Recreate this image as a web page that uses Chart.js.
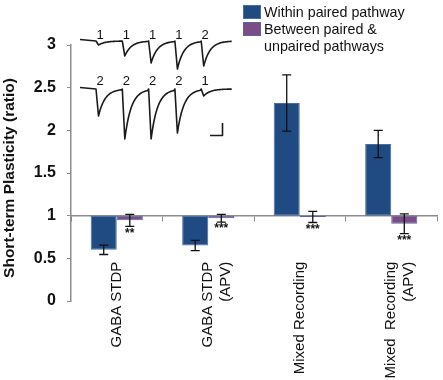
<!DOCTYPE html>
<html>
<head>
<meta charset="utf-8">
<script src="https://cdn.jsdelivr.net/npm/chart.js@4.4.0/dist/chart.umd.min.js"></script>
<style>
  html, body { margin: 0; padding: 0; background: #fff; }
  #wrap { width: 443px; height: 380px; }
</style>
</head>
<body>
<div id="wrap"><canvas id="myChart" width="443" height="380"></canvas></div>
<script>
const FONT = "'Liberation Sans', Arial, sans-serif";

// data
const categories = [['GABA STDP'], ['GABA STDP', '(APV)'], ['Mixed Recording'], ['Mixed  Recording', '(APV)']];
const seriesNames = ['Within paired pathway', 'Between paired &\nunpaired pathways'];
const yTitle = 'Short-term Plasticity (ratio)';
const baseline = 1;
const withinValues = [0.60, 0.65, 2.32, 1.84];
const withinErrors = [0.055, 0.06, 0.33, 0.16];
const betweenValues = [0.945, 0.97, 0.985, 0.905];
const betweenErrors = [0.07, 0.045, 0.065, 0.115];
const significance = ['**', '***', '***', '***'];
const yMin = 0, yMax = 3, yStep = 0.5;

// inset traces (relative depth of each response, and pathway numbers)
const traceTopDepths = [0.08, 0.3, 0.44, 0.56, 0.5];
const traceTopLabels = ['1', '1', '1', '1', '2'];
const traceBottomDepths = [0.54, 1.0, 1.0, 0.88, 0.14];
const traceBottomLabels = ['2', '2', '2', '2', '1'];

const inset = { left: 80, right: 232, firstX: 96, spacing: 26.3, depthScale: 50 };

function drawTrace(ctx, baseY, depths, labels, labelY) {
  ctx.beginPath();
  ctx.moveTo(inset.left, baseY - 1.5);
  for (let i = 0; i < depths.length; i++) {
    const x0 = inset.firstX + i * inset.spacing;
    const next = i < depths.length - 1 ? x0 + inset.spacing : inset.right;
    const d = depths[i] * inset.depthScale;
    ctx.lineTo(x0, baseY);
    ctx.lineTo(x0 + 2.5, baseY + d);
    for (let x = x0 + 3.5; x <= next; x += 1) {
      const t = x - x0 - 2.5;
      ctx.lineTo(x, baseY + d * Math.exp(-t / 6.5));
    }
  }
  ctx.stroke();
  ctx.fillStyle = '#111';
  ctx.font = '13px ' + FONT;
  ctx.textAlign = 'center';
  ctx.textBaseline = 'middle';
  labels.forEach((l, i) => {
    ctx.fillText(l, inset.firstX + i * inset.spacing + 4, labelY);
  });
}

const extras = {
  id: 'extras',
  afterDatasetsDraw(chart) {
    const ctx = chart.ctx;
    const y = chart.scales.y;
    ctx.save();
    // y axis title
    ctx.save();
    ctx.translate(10, 178);
    ctx.rotate(-Math.PI / 2);
    ctx.fillStyle = '#111';
    ctx.font = 'bold 15.5px ' + FONT;
    ctx.textAlign = 'center';
    ctx.textBaseline = 'middle';
    ctx.fillText(yTitle, 0, 0);
    ctx.restore();
    // error bars
    chart.data.datasets.forEach((ds, di) => {
      const meta = chart.getDatasetMeta(di);
      meta.data.forEach((bar, i) => {
        const v = ds.values[i], e = ds.errors[i];
        const top = y.getPixelForValue(v + e), bot = y.getPixelForValue(v - e);
        ctx.strokeStyle = '#111';
        ctx.lineWidth = 1.3;
        ctx.beginPath();
        ctx.moveTo(bar.x, top); ctx.lineTo(bar.x, bot);
        ctx.moveTo(bar.x - 4.5, top); ctx.lineTo(bar.x + 4.5, top);
        ctx.moveTo(bar.x - 4.5, bot); ctx.lineTo(bar.x + 4.5, bot);
        ctx.stroke();
      });
    });
    // significance stars under second series
    const meta2 = chart.getDatasetMeta(1);
    ctx.fillStyle = '#111';
    ctx.font = 'bold 12px ' + FONT;
    ctx.textAlign = 'center';
    ctx.textBaseline = 'top';
    meta2.data.forEach((bar, i) => {
      const bot = y.getPixelForValue(betweenValues[i] - betweenErrors[i]);
      ctx.fillText(significance[i], bar.x, bot + 1);
    });
    // legend
    const lx = 243;
    chart.data.datasets.forEach((ds, di) => {
      const by = 5 + di * 17;
      ctx.fillStyle = ds.backgroundColor;
      ctx.fillRect(lx, by, 18, 14);
      ctx.strokeStyle = ds.borderColor;
      ctx.lineWidth = 1;
      ctx.strokeRect(lx + 0.5, by + 0.5, 17, 13);
    });
    ctx.fillStyle = '#111';
    ctx.font = '14.3px ' + FONT;
    ctx.textAlign = 'left';
    ctx.textBaseline = 'alphabetic';
    ctx.fillText(seriesNames[0], 264, 17);
    seriesNames[1].split('\n').forEach((line, k) => {
      ctx.fillText(line, 264, 34 + k * 16.5);
    });
    // inset traces
    ctx.strokeStyle = '#1a1a1a';
    ctx.lineWidth = 1.6;
    ctx.lineJoin = 'round';
    drawTrace(ctx, 41, traceTopDepths, traceTopLabels, 35);
    drawTrace(ctx, 89, traceBottomDepths, traceBottomLabels, 81);
    // scale bar
    ctx.beginPath();
    ctx.moveTo(210, 135.5); ctx.lineTo(222.5, 135.5); ctx.lineTo(222.5, 123);
    ctx.stroke();
    ctx.restore();
  }
};

const ctx = document.getElementById('myChart').getContext('2d');
const myChart = new Chart(ctx, {
  type: 'bar',
  data: {
    labels: categories,
    datasets: [
      {
        label: seriesNames[0],
        data: withinValues.map(v => [baseline, v]),
        values: withinValues,
        errors: withinErrors,
        backgroundColor: '#1f4a82',
        borderColor: '#4b6d9e',
        borderWidth: 1,
        borderSkipped: false,
        categoryPercentage: 0.57,
        barPercentage: 1
      },
      {
        label: seriesNames[1],
        data: betweenValues.map(v => [baseline, v]),
        values: betweenValues,
        errors: betweenErrors,
        backgroundColor: '#7b4d85',
        borderColor: '#5b64a0',
        borderWidth: 1,
        borderSkipped: false,
        categoryPercentage: 0.57,
        barPercentage: 1
      }
    ]
  },
  options: {
    responsive: false,
    animation: false,
    layout: { padding: { top: 45, right: 6, bottom: 79, left: 0 } },
    plugins: { legend: { display: false }, tooltip: { enabled: false } },
    scales: {
      x: {
        position: { y: baseline },
        afterFit: s => { s.paddingLeft = 0; s.paddingRight = 0; },
        grid: { offset: true, drawOnChartArea: false, drawTicks: true, tickLength: 5, color: '#8c8c8c' },
        border: { color: '#8c8c8c', width: 1.5 },
        ticks: { minRotation: 90, maxRotation: 90, autoSkip: false, padding: 41, color: '#111', font: { family: FONT, size: 15 } }
      },
      y: {
        min: yMin,
        max: yMax,
        afterFit: s => { s.width = 71; s.paddingTop = 0; s.paddingBottom = 0; },
        grid: { drawOnChartArea: false, drawTicks: true, tickLength: 4, color: '#8c8c8c' },
        border: { color: '#8c8c8c', width: 1.5 },
        ticks: { stepSize: yStep, padding: 11, color: '#111', font: { family: FONT, size: 16, weight: 'bold' }, callback: v => String(v) },
        title: { display: false }
      }
    }
  },
  plugins: [extras]
});
</script>
</body>
</html>
